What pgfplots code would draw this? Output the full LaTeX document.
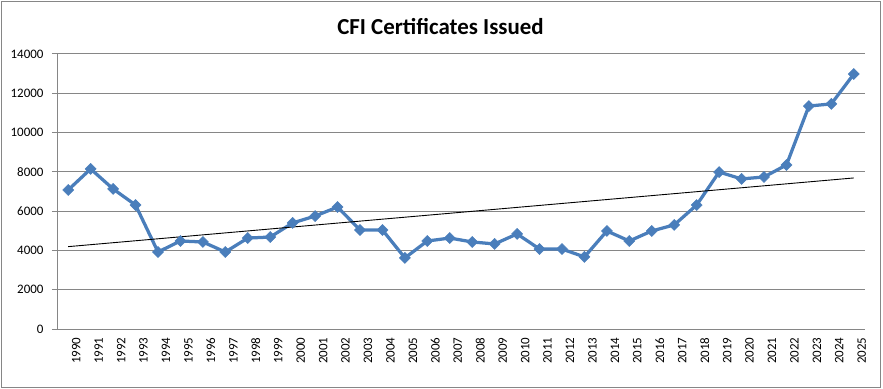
\documentclass[border=0pt]{standalone}
\usepackage{fontspec}
\setmainfont{Carlito}
\usepackage{pgfplots}
\usepackage{pgfplotstable}
\pgfplotsset{compat=1.18}
\definecolor{serblue}{HTML}{4A7EBB}
\definecolor{gridgray}{HTML}{868686}
\pgfplotstableread{
x y
0 7080
1 8150
2 7130
3 6310
4 3920
5 4480
6 4430
7 3920
8 4630
9 4680
10 5400
11 5750
12 6210
13 5040
14 5040
15 3620
16 4480
17 4630
18 4430
19 4330
20 4840
21 4070
22 4070
23 3670
24 4990
25 4480
26 4990
27 5300
28 6310
29 7990
30 7640
31 7740
32 8350
33 11350
34 11460
35 12980
}\data
\begin{document}
\begin{tikzpicture}
\begin{axis}[
  width=808bp, height=275bp, scale only axis,
  xmin=-0.5, xmax=35.5, ymin=0, ymax=14000,
  ytick={0,2000,...,14000},
  scaled ticks=false,
  xtick={0,...,35},
  xticklabels={1990,1991,1992,1993,1994,1995,1996,1997,1998,1999,2000,2001,2002,2003,2004,2005,2006,2007,2008,2009,2010,2011,2012,2013,2014,2015,2016,2017,2018,2019,2020,2021,2022,2023,2024,2025},
  minor xtick={-0.5,0.5,...,35.5},
  xtick style={draw=none},
  minor x tick style={gridgray, line width=1bp},
  ytick style={gridgray, line width=1bp},
  major tick length=5bp, minor tick length=5bp,
  tick align=outside,
  axis x line*=bottom, axis y line*=left,
  axis line style={gridgray, line width=1bp, -},
  ymajorgrids,
  major grid style={gridgray, line width=1bp},
  /pgf/number format/assume math mode=true,
  /pgf/number format/1000 sep={},
  tick label style={font=\fontsize{13}{14}\selectfont, black},
  x tick label style={rotate=90, anchor=east, yshift=-8bp},
  y tick label style={xshift=-5bp},
]
\addplot[serblue, line width=3.25bp, mark=square*, mark size=3.9bp, mark options={fill=serblue, rotate=45, line width=0.5bp}] table[x=x, y=y] \data;
\addplot[black, line width=0.9bp, no marks] table[x=x, y={create col/linear regression={y=y}}] \data;
\end{axis}
\node[font=\bfseries\fontsize{23}{26}\selectfont] at (383.5bp,302bp) {CFI Certificates Issued};
\draw[gridgray, line width=1bp] (-55.5bp,-58.5bp) rectangle (823.5bp,327.5bp);
\pgfresetboundingbox
\path (-57bp,-60bp) rectangle (826bp,329bp);
\end{tikzpicture}
\end{document}
